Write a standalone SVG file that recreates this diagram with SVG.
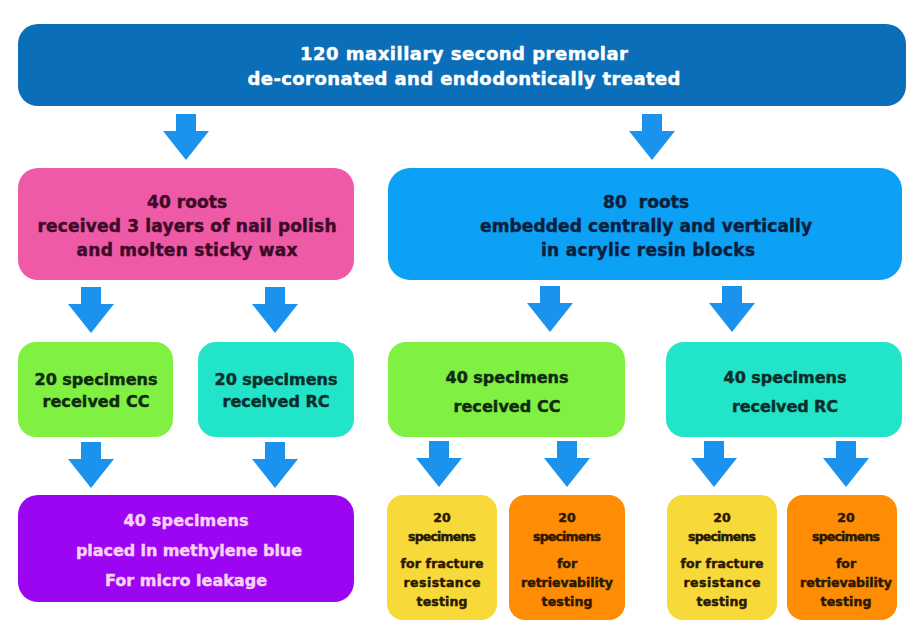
<svg xmlns="http://www.w3.org/2000/svg" xmlns:xlink="http://www.w3.org/1999/xlink" width="908" height="626" viewBox="0 0 908 626">
<style>
text{font-family:"DejaVu Sans","Liberation Sans",sans-serif;font-weight:bold;text-anchor:middle;stroke-width:0.45px}
.t1{font-size:18px;fill:#ffffff;stroke:#ffffff}
.t2{font-size:17px}
.t3{font-size:16px}
.t4{font-size:12.5px;fill:#2a1800;stroke:#2a1800}
.arrow{fill:#1b93ee}
</style>
<defs>
<path id="arr" d="M-10,0 H10 V17 H23 L0,46 L-23,17 H-10 Z"/>
</defs>
<rect width="908" height="626" fill="#ffffff"/>
<g id="connectors" class="arrow">
<use xlink:href="#arr" x="186" y="114"/>
<use xlink:href="#arr" x="652" y="114"/>
<use xlink:href="#arr" x="91" y="287"/>
<use xlink:href="#arr" x="275" y="287"/>
<use xlink:href="#arr" x="550" y="286"/>
<use xlink:href="#arr" x="732" y="286"/>
<use xlink:href="#arr" x="91" y="442"/>
<use xlink:href="#arr" x="275" y="442"/>
<use xlink:href="#arr" x="439" y="441"/>
<use xlink:href="#arr" x="567" y="441"/>
<use xlink:href="#arr" x="714" y="441"/>
<use xlink:href="#arr" x="846" y="441"/>
</g>
<g id="n_top">
<rect x="18" y="24" width="888" height="82" rx="20" fill="#0b6eb8"/>
<text class="t1" x="464" y="60" textLength="328">120 maxillary second premolar</text>
<text class="t1" x="464" y="85" textLength="433">de-coronated and endodontically treated</text>
</g>
<g id="n_40roots">
<rect x="18" y="168" width="336" height="112" rx="20" fill="#ef5aa6"/>
<g fill="#3d0a27" stroke="#3d0a27">
<text class="t2" x="187" y="208" textLength="80">40 roots</text>
<text class="t2" x="187" y="232" textLength="299">received 3 layers of nail polish</text>
<text class="t2" x="187" y="256" textLength="221">and molten sticky wax</text>
</g>
</g>
<g id="n_80roots">
<rect x="388" y="168" width="514" height="112" rx="22" fill="#0ca1f5"/>
<g fill="#0a1f3d" stroke="#0a1f3d">
<text class="t2" x="646" y="208" textLength="86" xml:space="preserve">80  roots</text>
<text class="t2" x="646" y="232" textLength="332">embedded centrally and vertically</text>
<text class="t2" x="648" y="256" textLength="214">in acrylic resin blocks</text>
</g>
</g>
<g id="n_20cc">
<rect x="18" y="342" width="155" height="95" rx="18" fill="#80f043"/>
<g fill="#0f2a10" stroke="#0f2a10">
<text class="t3" x="96" y="385" textLength="123">20 specimens</text>
<text class="t3" x="96" y="407" textLength="107">received CC</text>
</g>
</g>
<g id="n_20rc">
<rect x="198" y="342" width="156" height="95" rx="18" fill="#22e4c9"/>
<g fill="#0a2e2c" stroke="#0a2e2c">
<text class="t3" x="276" y="385" textLength="123">20 specimens</text>
<text class="t3" x="276" y="407" textLength="107">received RC</text>
</g>
</g>
<g id="n_40cc">
<rect x="388" y="342" width="237" height="95" rx="18" fill="#80f043"/>
<g fill="#0f2a10" stroke="#0f2a10">
<text class="t3" x="507" y="383" textLength="123">40 specimens</text>
<text class="t3" x="507" y="412" textLength="107">received CC</text>
</g>
</g>
<g id="n_40rc">
<rect x="666" y="342" width="236" height="95" rx="18" fill="#22e4c9"/>
<g fill="#0a2e2c" stroke="#0a2e2c">
<text class="t3" x="785" y="383" textLength="123">40 specimens</text>
<text class="t3" x="785" y="412" textLength="106">received RC</text>
</g>
</g>
<g id="n_leak">
<rect x="18" y="495" width="336" height="107" rx="20" fill="#9c05f2"/>
<g fill="#f7d2f2" stroke="#f7d2f2">
<text class="t3" x="186" y="526" textLength="125">40 specimens</text>
<text class="t3" x="189" y="556" textLength="226">placed in methylene blue</text>
<text class="t3" x="186" y="586" textLength="162">For micro leakage</text>
</g>
</g>
<g id="n_fr1">
<rect x="387" y="495" width="110" height="125" rx="16" fill="#f8d93a"/>
<text class="t4" x="442" y="522">20</text>
<text class="t4" x="442" y="541" textLength="68">specimens</text>
<text class="t4" x="442" y="568" textLength="83">for fracture</text>
<text class="t4" x="442" y="587" textLength="77">resistance</text>
<text class="t4" x="442" y="606" textLength="51">testing</text>
</g>
<g id="n_rt1">
<rect x="509" y="495" width="116" height="125" rx="16" fill="#fe8c04"/>
<text class="t4" x="567" y="522">20</text>
<text class="t4" x="567" y="541" textLength="68">specimens</text>
<text class="t4" x="567" y="568">for</text>
<text class="t4" x="567" y="587" textLength="92">retrievability</text>
<text class="t4" x="567" y="606" textLength="51">testing</text>
</g>
<g id="n_fr2">
<rect x="667" y="495" width="110" height="125" rx="16" fill="#f8d93a"/>
<text class="t4" x="722" y="522">20</text>
<text class="t4" x="722" y="541" textLength="68">specimens</text>
<text class="t4" x="722" y="568" textLength="83">for fracture</text>
<text class="t4" x="722" y="587" textLength="77">resistance</text>
<text class="t4" x="722" y="606" textLength="51">testing</text>
</g>
<g id="n_rt2">
<rect x="787" y="495" width="110" height="125" rx="16" fill="#fe8c04"/>
<text class="t4" x="846" y="522">20</text>
<text class="t4" x="846" y="541" textLength="68">specimens</text>
<text class="t4" x="846" y="568">for</text>
<text class="t4" x="846" y="587" textLength="92">retrievability</text>
<text class="t4" x="846" y="606" textLength="51">testing</text>
</g>
</svg>
